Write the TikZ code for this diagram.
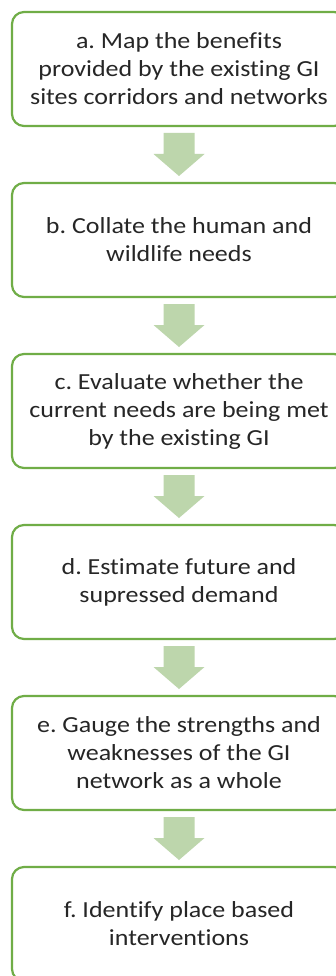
\documentclass[tikz,border=0pt]{standalone}
\usepackage{fontspec}
\setmainfont[FakeStretch=1.13,Ligatures=NoCommon]{Carlito}
\usetikzlibrary{calc,positioning}
\frenchspacing

\definecolor{boxgreen}{RGB}{112,173,71}
\definecolor{arrowgreen}{RGB}{189,214,172}
\definecolor{textgray}{RGB}{38,38,38}

\tikzset{
	stage/.style={draw=boxgreen, line width=2.2pt, rounded corners=12pt, fill=white,
		minimum width=334pt, minimum height=114pt, inner sep=0pt, outer sep=0pt,
		align=center, text=textgray, font=\fontsize{23}{28}\selectfont},
}

\begin{document}
\begin{tikzpicture}[x=1pt,y=1pt,node distance=57pt]
	\clip (0,0) rectangle (336,-976);
	\fill[white] (0,0) rectangle (336,-976);

	\node[stage] (a) at (179,-69) {a. Map the benefits\\provided by the existing GI\\sites corridors and networks};
	\node[stage, below=of a] (b) {b. Collate the human and\\wildlife needs};
	\node[stage, below=of b] (c) {c. Evaluate whether the\\current needs are being met\\by the existing GI};
	\node[stage, below=of c] (d) {d. Estimate future and\\supressed demand};
	\node[stage, below=of d] (e) {e. Gauge the strengths and\\weaknesses of the GI\\network as a whole};
	\node[stage, below=of e] (f) {f. Identify place based\\interventions};

	% block arrows between the stages
	\foreach \from/\to in {a/b,b/c,c/d,d/e,e/f}{
		\fill[arrowgreen] ($(\from.south)+(-15.5,-7)$) -- ($(\from.south)+(15.5,-7)$)
			-- ($(\from.south)+(15.5,-28)$) -- ($(\from.south)+(25.5,-28)$)
			-- ($(\to.north)+(0,7)$)
			-- ($(\from.south)+(-25.5,-28)$) -- ($(\from.south)+(-15.5,-28)$) -- cycle;
	}
\end{tikzpicture}
\end{document}
